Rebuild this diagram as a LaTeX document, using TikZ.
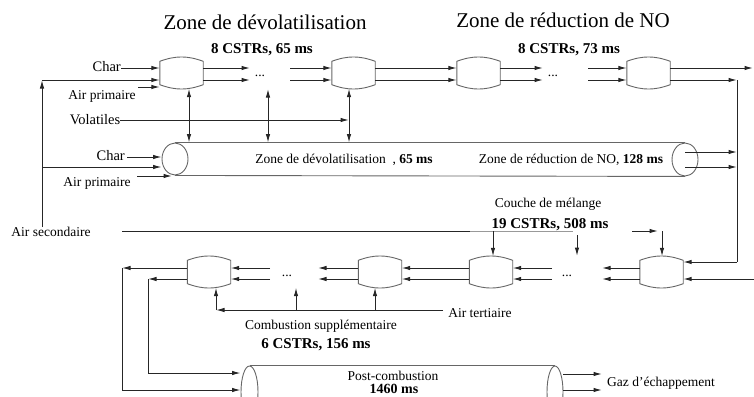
\documentclass[tikz,border=0pt]{standalone}
\usepackage{fontspec}
\setmainfont{Liberation Serif}
\usetikzlibrary{arrows.meta,shapes.geometric}
\tikzset{
  >={Latex[length=8.5pt,width=4.5pt]},
  line/.style={black!85,line width=1pt},
  arr/.style={line,->},
  darr/.style={line,<->},
  shell/.style={black!60,line width=0.9pt},
  reactor/.style={minimum width=43pt,minimum height=31pt,inner sep=0pt},
  tube/.style={shell,draw,ellipse,inner sep=0pt},
  lbl/.style={font=\fontsize{13.5}{15}\selectfont,inner sep=0pt},
  charlbl/.style={font=\fontsize{14.5}{16}\selectfont,inner sep=0pt},
  boldlbl/.style={font=\fontsize{15}{17}\selectfont\bfseries,inner sep=0pt},
  titlelbl/.style={font=\fontsize{21}{24}\selectfont,inner sep=0pt},
}
\begin{document}
\begin{tikzpicture}[x=1pt,y=-1pt]
\useasboundingbox (0,0) rectangle (754,396);
\clip (0,0) rectangle (754,396);

% titles
\node[titlelbl] (ti1) at (265,22) {Zone de dévolatilisation};
\node[titlelbl] (ti2) at (563,20) {Zone de réduction de NO};
\node[boldlbl] (b1) at (262,50) {8 CSTRs, 65 ms};
\node[boldlbl] (b2) at (569,50) {8 CSTRs, 73 ms};

% reactors
\node[reactor] (r1) at (181.5,73) {};
\node[reactor] (r2) at (353.5,73) {};
\node[reactor] (r3) at (478.5,73) {};
\node[reactor] (r4) at (648.5,73) {};
\node[reactor] (ra) at (209,272) {};
\node[reactor] (rb) at (380,272) {};
\node[reactor] (rc) at (491,272) {};
\node[reactor] (rd) at (661.5,272) {};
\foreach \n in {r1,r2,r3,r4,ra,rb,rc,rd}
  \draw[shell] ([yshift=-4pt]\n.north west) to[bend left=20] ([yshift=-4pt]\n.north east)
     -- ([yshift=4pt]\n.south east) to[bend left=20] ([yshift=4pt]\n.south west) -- cycle;

% dots
\node[lbl] (dt1) at (260,76) {...};
\node[lbl] (dt2) at (553,76) {...};
\node[lbl] (db1) at (287,276) {...};
\node[lbl] (db2) at (567,276) {...};
\coordinate (dt1a) at (250,73);
\coordinate (dt1b) at (290,73);
\coordinate (dt2a) at (543,73);
\coordinate (dt2b) at (588,73);

% top row flows
\foreach \s in {5,-7}{
  \draw[arr] ([yshift=\s pt]r1.east) -- ([yshift=\s pt]r1.east -| dt1a);
  \draw[arr] ([yshift=\s pt]r2.west -| dt1b) -- ([yshift=\s pt]r2.west);
  \draw[arr] ([yshift=\s pt]r2.east) -- ([yshift=\s pt]r3.west);
  \draw[arr] ([yshift=\s pt]r3.east) -- ([yshift=\s pt]r3.east -| dt2a);
  \draw[arr] ([yshift=\s pt]r4.west -| dt2b) -- ([yshift=\s pt]r4.west);
}
\coordinate (topout) at (753,68);
\coordinate (rc1) at (737,80);
\coordinate (rc2) at (737,262);
\draw[arr] ([yshift=5pt]r4.east) -- (topout);
\draw[arr] ([yshift=-7pt]r4.east) -- (rc1);
\draw[line] (rc1) -- (rc2);
\draw[arr] (rc2) -- (rc2 -| rd.east);

% tube 1
\node[tube,minimum width=26pt,minimum height=32pt] (t1l) at (175,159) {};
\node[tube,minimum width=26pt,minimum height=33pt] (t1r) at (685,159.5) {};
\draw[shell] (t1l.north) -- (t1r.north);
\draw[shell] (t1l.south) -- (t1r.south);
\node[lbl] (z1) at (344,160) {Zone de dévolatilisation~~, \textbf{65 ms}};
\node[lbl] (z2) at (571,160) {Zone de réduction de NO, \textbf{128 ms}};
\coordinate (o1) at (737,152);
\coordinate (o2) at (737,167);
\draw[arr] (o1 -| t1r.center) -- (o1);
\draw[arr] (o2 -| t1r.center) -- (o2);

% inputs left
\coordinate (c1) at (121,68);
\node[charlbl,anchor=base east] (char1) at (121,71) {Char};
\draw[arr] (c1) -- (c1 -| r1.west);
\node[lbl] (ap1) at (102,96) {Air primaire};
\coordinate (p1) at (138,87);
\draw[arr] (p1) -- (p1 -| r1.west);

\node[lbl] (asec) at (51,232) {Air secondaire};
\coordinate (s1) at (42,80);
\coordinate (s2) at (42,167);
\draw[arr] (s1 |- asec.north) -- (s1);
\draw[arr] (s1) -- (s1 -| r1.west);
\draw[arr] (s2) -- (s2 -| t1l.west);

\coordinate (c2) at (127,157);
\node[charlbl,anchor=base east] (char2) at (125,160) {Char};
\draw[arr] (c2) -- (c2 -| t1l.west);
\coordinate (p2) at (137,176);
\coordinate (p2e) at (172,176);
\node[lbl] (ap2) at (97,183) {Air primaire};
\draw[arr] (p2) -- (p2e);

% volatiles and exchanges
\node[charlbl] (vol) at (95,120) {Volatiles};
\coordinate (v1) at ([xshift=7.5pt]r1.south);
\coordinate (v2) at (268,89);
\coordinate (v3) at ([xshift=-4.5pt]r2.south);
\draw[darr] (v1) -- (v1 |- t1l.north);
\draw[darr] (v2) -- (v2 |- t1l.north);
\draw[darr] (v3) -- (v3 |- t1l.north);
\draw[arr] (vol.east) -- (vol.east -| v3);

% secondary air line and mixing layer
\coordinate (sa1) at (122,231);
\coordinate (sa3) at (470,231);
\coordinate (sa2) at (573,231);
\draw[line] (sa1) -- (sa3);
\draw[black!40,line width=0.9pt] (sa3) -- (sa2);
\node[lbl] (cm) at (548,204) {Couche de mélange};
\node[boldlbl] (b3) at (550,225) {19 CSTRs, 508 ms};
\coordinate (m1) at (493,231);
\draw[arr] (m1) -- (m1 |- rc.north);
\coordinate (m2) at (577,235);
\coordinate (m2e) at (577,256);
\draw[arr] (m2) -- (m2e);
\coordinate (m3) at (632,231);
\coordinate (m4) at (658,231);
\draw[arr] (m3) -- (m4);
\coordinate (m5) at (662,231);
\draw[arr] (m5) -- (m5 |- rd.north);

% bottom row flows
\coordinate (re) at (754,279);
\draw[arr] (re) -- (re -| rd.east);
\coordinate (db2a) at (602,272);
\coordinate (db2b) at (552,272);
\coordinate (db1a) at (318,272);
\coordinate (db1b) at (270,272);
\foreach \s in {4,-7}{
  \draw[arr] ([yshift=\s pt]rd.west) -- ([yshift=\s pt]rd.west -| db2a);
  \draw[arr] ([yshift=\s pt]rc.east -| db2b) -- ([yshift=\s pt]rc.east);
  \draw[arr] ([yshift=\s pt]rc.west) -- ([yshift=\s pt]rb.east);
  \draw[arr] ([yshift=\s pt]rb.west) -- ([yshift=\s pt]rb.west -| db1a);
  \draw[arr] ([yshift=\s pt]ra.east -| db1b) -- ([yshift=\s pt]ra.east);
}

% tertiary air
\node[lbl] (atert) at (480,313) {Air tertiaire};
\coordinate (tl) at (443,310);
\coordinate (tc) at (216,310);
\coordinate (tm) at (296,310);
\coordinate (tb) at (375,310);
\draw[arr] (tl) -- (tc);
\draw[arr] (tc) -- (tc |- ra.south);
\draw[arr] (tm) -- (tm |- ra.south);
\draw[arr] (tb) -- (tb |- rb.south);
\node[lbl] (cs) at (321,326) {Combustion supplémentaire};
\node[boldlbl] (b4) at (316,345) {6 CSTRs, 156 ms};

% tube 2
\node[tube,minimum width=17pt,minimum height=52pt] (t2l) at (249.5,392) {};
\node[tube,minimum width=16pt,minimum height=52pt] (t2r) at (555,392) {};
\draw[shell] (t2l.north) -- (t2r.north);
\draw[shell] (t2l.south) -- (t2r.south);
\node[lbl] (pc) at (393,376) {Post-combustion};
\node[font=\fontsize{14}{16}\selectfont\bfseries,inner sep=0pt] (b5) at (394,388.5) {1460 ms};

\coordinate (q1) at (122,268);
\coordinate (q1b) at (122,390);
\coordinate (q2) at (148,279);
\coordinate (q2b) at (148,373);
\draw[arr] ([yshift=4pt]ra.west) -- (q1);
\draw[arr] (q1) -- (q1b) -- (q1b -| t2l.west);
\draw[arr] ([yshift=-7pt]ra.west) -- (q2);
\draw[arr] (q2) -- (q2b) -- (q2b -| t2l.west);

\coordinate (g1) at (602,374);
\coordinate (g2) at (602,390);
\draw[arr] (g1 -| t2r.east) -- (g1);
\draw[arr] (g2 -| t2r.east) -- (g2);
\node[lbl] (gaz) at (661,383) {Gaz d'échappement};
\end{tikzpicture}
\end{document}
